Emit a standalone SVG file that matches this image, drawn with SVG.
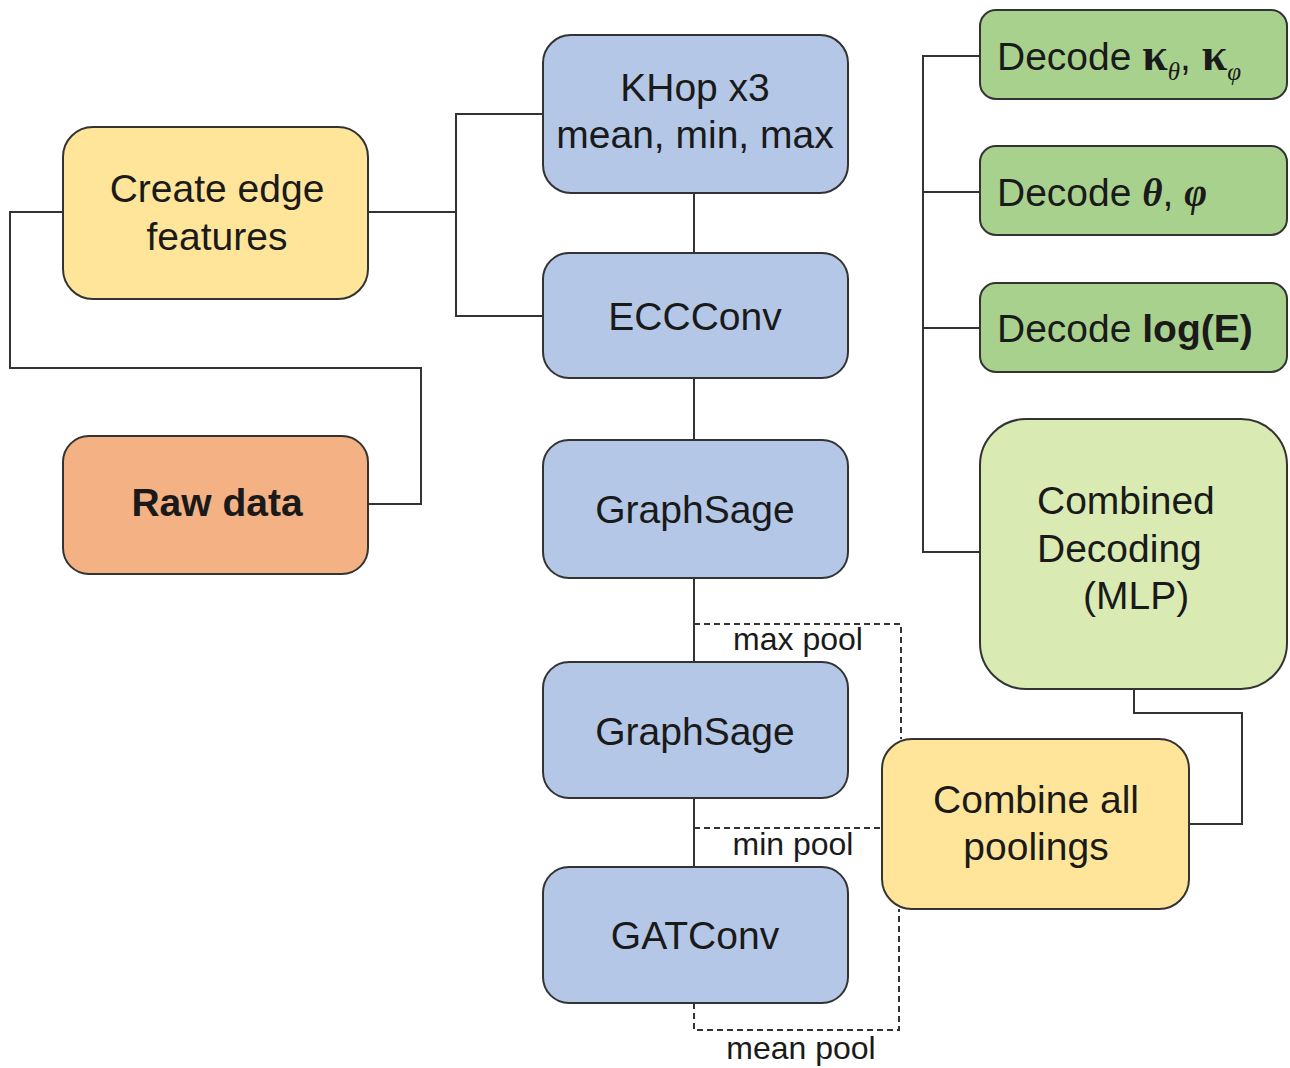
<svg xmlns="http://www.w3.org/2000/svg" width="1290" height="1068" viewBox="0 0 1290 1068">
<style>
.box{stroke:#333;stroke-width:2}
.blue{fill:#b4c7e7}.yellow{fill:#ffe599}.orange{fill:#f4b183}.green{fill:#a9d18e}.lgreen{fill:#d9eab3}
.t{font-family:"Liberation Sans",Arial,sans-serif;font-size:39px;fill:#1a1a1a;text-anchor:middle}
.ts{font-family:"Liberation Sans",Arial,sans-serif;font-size:39px;fill:#1a1a1a}
.m{font-family:"Liberation Serif","DejaVu Serif",serif;font-weight:bold}
.mi{font-family:"Liberation Serif","DejaVu Serif",serif;font-style:italic}
.lbl{font-family:"Liberation Sans",Arial,sans-serif;font-size:32px;fill:#1a1a1a;text-anchor:middle}
.c{fill:none;stroke:#333;stroke-width:2}
.d{fill:none;stroke:#333;stroke-width:2;stroke-dasharray:6,4}
</style>
<g id="connectors">
<polyline class="c" points="63,212 10,212 10,368 421,368 421,504 368,504"/>
<polyline class="c" points="368,212 456,212"/>
<polyline class="c" points="543,114 456,114 456,316 543,316"/>
<line class="c" x1="694" y1="193" x2="694" y2="253"/>
<line class="c" x1="694" y1="378" x2="694" y2="440"/>
<line class="c" x1="694" y1="578" x2="694" y2="662"/>
<line class="c" x1="694" y1="798" x2="694" y2="867"/>
<polyline class="c" points="980,56 923,56 923,552 980,552"/>
<line class="c" x1="923" y1="192" x2="980" y2="192"/>
<line class="c" x1="923" y1="328" x2="980" y2="328"/>
<polyline class="c" points="1190,824 1242,824 1242,713 1134,713 1134,689"/>
<polyline class="d" points="694,624 901,624 901,739"/>
<line class="d" x1="694" y1="828" x2="882" y2="828"/>
<polyline class="d" points="694,1003 694,1030 899,1030 899,909"/>
<text class="lbl" x="798" y="650">max pool</text>
<text class="lbl" x="793" y="855">min pool</text>
<text class="lbl" x="801" y="1059">mean pool</text>
</g>
<g id="create-edge">
<rect class="box yellow" x="63" y="127" width="305" height="172" rx="30"/>
<text class="t" x="217" y="202">Create edge</text>
<text class="t" x="217" y="250">features</text>
</g>
<g id="raw-data">
<rect class="box orange" x="63" y="436" width="305" height="138" rx="26"/>
<text class="t" x="217" y="516" font-weight="bold">Raw data</text>
</g>
<g id="khop">
<rect class="box blue" x="543" y="35" width="305" height="158" rx="28"/>
<text class="t" x="695" y="101">KHop x3</text>
<text class="t" x="695" y="148">mean, min, max</text>
</g>
<g id="eccconv">
<rect class="box blue" x="543" y="253" width="305" height="125" rx="26"/>
<text class="t" x="695" y="330">ECCConv</text>
</g>
<g id="graphsage1">
<rect class="box blue" x="543" y="440" width="305" height="138" rx="26"/>
<text class="t" x="695" y="523">GraphSage</text>
</g>
<g id="graphsage2">
<rect class="box blue" x="543" y="662" width="305" height="136" rx="26"/>
<text class="t" x="695" y="745">GraphSage</text>
</g>
<g id="gatconv">
<rect class="box blue" x="543" y="867" width="305" height="136" rx="26"/>
<text class="t" x="695" y="949">GATConv</text>
</g>
<g id="decode-kappa">
<rect class="box green" x="980" y="10" width="307" height="89" rx="16"/>
<text class="ts" x="997" y="70">Decode <tspan class="m" font-size="46">κ</tspan><tspan class="mi" font-size="25" dy="10">θ</tspan><tspan dy="-10">, </tspan><tspan class="m" font-size="46">κ</tspan><tspan class="mi" font-size="25" dy="10">φ</tspan></text>
</g>
<g id="decode-angles">
<rect class="box green" x="980" y="146" width="307" height="89" rx="16"/>
<text class="ts" x="997" y="206">Decode <tspan class="m" font-style="italic">θ</tspan>, <tspan class="m" font-style="italic">φ</tspan></text>
</g>
<g id="decode-energy">
<rect class="box green" x="980" y="283" width="307" height="89" rx="16"/>
<text class="ts" x="997" y="342">Decode <tspan font-weight="bold">log(E)</tspan></text>
</g>
<g id="combined-decoding">
<rect class="box lgreen" x="980" y="419" width="307" height="270" rx="46"/>
<text class="ts" x="1037" y="514">Combined</text>
<text class="ts" x="1037" y="562">Decoding</text>
<text class="ts" x="1083" y="609">(MLP)</text>
</g>
<g id="combine-poolings">
<rect class="box yellow" x="882" y="739" width="307" height="170" rx="30"/>
<text class="t" x="1036" y="813">Combine all</text>
<text class="t" x="1036" y="860">poolings</text>
</g>
</svg>
